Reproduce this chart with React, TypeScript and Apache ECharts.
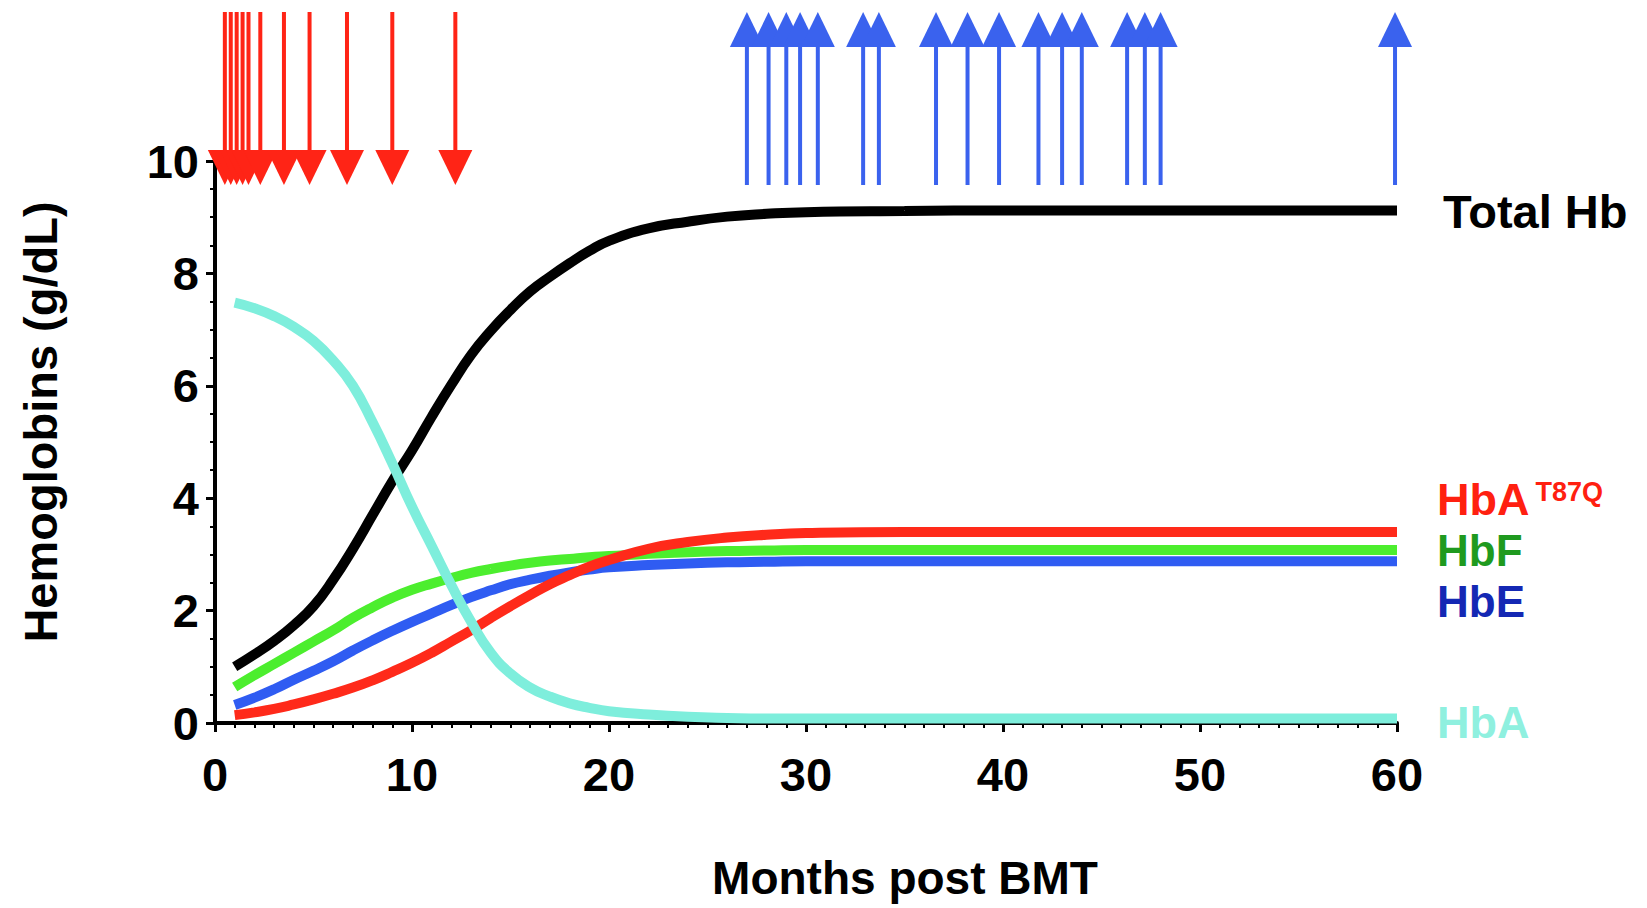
import React, { useEffect, useRef } from "react";
import * as echarts from "echarts";

const months = [1, 2, 3, 4, 5, 6, 7, 8, 9, 10, 11, 12, 13, 14, 15, 16, 17, 18, 19, 20, 22, 24, 26, 28, 30, 35, 40, 45, 50, 55, 60];
const totalHb = [1.0, 1.22, 1.46, 1.74, 2.08, 2.55, 3.1, 3.7, 4.3, 4.85, 5.45, 6.02, 6.55, 6.98, 7.35, 7.68, 7.94, 8.18, 8.4, 8.58, 8.8, 8.92, 9.01, 9.06, 9.09, 9.11, 9.12, 9.12, 9.12, 9.12, 9.12];
const hbA = [7.48, 7.38, 7.24, 7.05, 6.8, 6.45, 6.0, 5.35, 4.62, 3.85, 3.15, 2.45, 1.8, 1.25, 0.88, 0.63, 0.47, 0.35, 0.27, 0.21, 0.15, 0.11, 0.09, 0.08, 0.08, 0.08, 0.08, 0.08, 0.08, 0.08, 0.08];
const hbF = [0.64, 0.85, 1.05, 1.25, 1.45, 1.65, 1.87, 2.06, 2.23, 2.37, 2.48, 2.58, 2.67, 2.74, 2.8, 2.85, 2.89, 2.92, 2.95, 2.97, 3.01, 3.04, 3.06, 3.07, 3.08, 3.08, 3.08, 3.08, 3.08, 3.08, 3.08];
const hbE = [0.32, 0.45, 0.6, 0.77, 0.93, 1.1, 1.29, 1.47, 1.64, 1.8, 1.95, 2.1, 2.24, 2.36, 2.47, 2.55, 2.62, 2.68, 2.73, 2.77, 2.81, 2.84, 2.86, 2.87, 2.88, 2.88, 2.88, 2.88, 2.88, 2.88, 2.88];
const hbAT87Q = [0.14, 0.19, 0.25, 0.33, 0.42, 0.52, 0.63, 0.76, 0.91, 1.07, 1.25, 1.45, 1.65, 1.87, 2.08, 2.28, 2.47, 2.63, 2.78, 2.9, 3.1, 3.22, 3.3, 3.35, 3.38, 3.4, 3.4, 3.4, 3.4, 3.4, 3.4];

const redArrowMonths = [0.5, 0.8, 1.1, 1.4, 1.7, 2.3, 3.5, 4.8, 6.7, 9.0, 12.2];
const blueArrowMonths = [27.0, 28.1, 29.0, 29.7, 30.6, 32.9, 33.7, 36.6, 38.2, 39.8, 41.8, 43.0, 44.0, 46.3, 47.2, 48.0, 59.9];

const xTicks = [0, 10, 20, 30, 40, 50, 60];
const yTicks = [0, 2, 4, 6, 8, 10];

const FONT = "'Liberation Sans', Arial, Helvetica, sans-serif";

function pair(xs: number[], ys: number[]) {
  return xs.map((x, i) => [x, ys[i]]);
}

function arrowRenderer(color: string, pointDown: boolean) {
  return (params: any, api: any) => {
    const m = api.value(0);
    const top = api.coord([m, 100]);
    const bot = api.coord([m, 0]);
    const headLen = 35;
    const headHalf = 17;
    let shaft, head;
    if (pointDown) {
      shaft = { x1: top[0], y1: top[1], x2: bot[0], y2: bot[1] - headLen + 2 };
      head = [[bot[0] - headHalf, bot[1] - headLen], [bot[0] + headHalf, bot[1] - headLen], [bot[0], bot[1]]];
    } else {
      shaft = { x1: bot[0], y1: bot[1], x2: top[0], y2: top[1] + headLen - 2 };
      head = [[top[0] - headHalf, top[1] + headLen], [top[0] + headHalf, top[1] + headLen], [top[0], top[1]]];
    }
    return {
      type: "group",
      children: [
        { type: "line", shape: shaft, style: { stroke: color, lineWidth: 4 } },
        { type: "polygon", shape: { points: head }, style: { fill: color } },
      ],
    };
  };
}

function label(text: string, x: number, yCenter: number, fill: string, size: number, lh: number) {
  return {
    type: "text",
    x,
    y: yCenter,
    style: { text, fill, font: `bold ${size}px ${FONT}`, lineHeight: lh, align: "left", verticalAlign: "middle" },
  };
}

export default function App() {
  const ref = useRef<HTMLDivElement>(null);
  useEffect(() => {
    if (!ref.current) return;
    const chart = echarts.init(ref.current, undefined, { renderer: "svg" });
    const left = 215;
    const right = 1647 - 1397;
    const lineSeries = (name: string, data: number[], color: string) => ({
      name,
      type: "line",
      xAxisIndex: 0,
      yAxisIndex: 0,
      data: pair(months, data),
      smooth: true,
      showSymbol: false,
      lineStyle: { color, width: 10, cap: "butt" },
      itemStyle: { color },
    });
    chart.setOption({
      animation: false,
      backgroundColor: "#ffffff",
      grid: [
        { left, right, top: 161, bottom: 908 - 723 },
        { left, right, top: 12, height: 173 },
      ],
      xAxis: [
        {
          type: "value",
          gridIndex: 0,
          min: 0,
          max: 60,
          interval: 10,
          axisLine: { show: true, lineStyle: { color: "#000", width: 4 } },
          axisTick: { show: true, length: 9, lineStyle: { color: "#000", width: 3 } },
          minorTick: { show: true, splitNumber: 10, length: 5, lineStyle: { color: "#000", width: 2 } },
          splitLine: { show: false },
          axisLabel: {
            margin: 28,
            color: "#000",
            fontSize: 47,
            fontWeight: "bold",
            fontFamily: FONT,
            formatter: (v: number) => (xTicks.includes(v) ? String(v) : ""),
          },
        },
        { type: "value", gridIndex: 1, min: 0, max: 60, show: false },
      ],
      yAxis: [
        {
          type: "value",
          gridIndex: 0,
          min: 0,
          max: 10,
          interval: 2,
          axisLine: { show: true, lineStyle: { color: "#000", width: 4 } },
          axisTick: { show: true, length: 9, lineStyle: { color: "#000", width: 3 } },
          minorTick: { show: true, splitNumber: 4, length: 5, lineStyle: { color: "#000", width: 2 } },
          splitLine: { show: false },
          axisLabel: {
            margin: 16,
            color: "#000",
            fontSize: 47,
            fontWeight: "bold",
            fontFamily: FONT,
            formatter: (v: number) => (yTicks.includes(v) ? String(v) : ""),
          },
        },
        { type: "value", gridIndex: 1, min: 0, max: 100, show: false },
      ],
      series: [
        lineSeries("Total Hb", totalHb, "#000000"),
        lineSeries("HbE", hbE, "#2f5cf2"),
        lineSeries("HbF", hbF, "#4cee2e"),
        lineSeries("HbA T87Q", hbAT87Q, "#ff2a1a"),
        lineSeries("HbA", hbA, "#7eeedc"),
        {
          type: "custom",
          name: "red arrows",
          xAxisIndex: 1,
          yAxisIndex: 1,
          data: redArrowMonths.map((m) => [m, 0]),
          renderItem: arrowRenderer("#ff2416", true),
          clip: false,
        },
        {
          type: "custom",
          name: "blue arrows",
          xAxisIndex: 1,
          yAxisIndex: 1,
          data: blueArrowMonths.map((m) => [m, 0]),
          renderItem: arrowRenderer("#3a62ee", false),
          clip: false,
        },
      ],
      graphic: [
        label("Total Hb", 1443, 211, "#000000", 47, 44),
        {
          type: "text",
          x: 1437,
          y: 499,
          style: {
            text: "{m|HbA}{s|T87Q}",
            fill: "#ff2010",
            align: "left",
            verticalAlign: "middle",
            rich: {
              m: { fontSize: 45, fontWeight: "bold", fontFamily: FONT, lineHeight: 42, fill: "#ff2010", verticalAlign: "middle" },
              s: { fontSize: 27, fontWeight: "bold", fontFamily: FONT, lineHeight: 27, fill: "#ff2010", verticalAlign: "top", padding: [0, 0, 0, 6] },
            },
          },
        },
        label("HbF", 1437, 550, "#1f9a1f", 44, 42),
        label("HbE", 1437, 601, "#1428b4", 44, 42),
        label("HbA", 1437, 722, "#8ff0df", 45, 42),
        {
          type: "text",
          x: 905,
          y: 878,
          style: { text: "Months post BMT", fill: "#000", font: `bold 46px ${FONT}`, lineHeight: 44, align: "center", verticalAlign: "middle" },
        },
        {
          type: "text",
          x: 40,
          y: 422,
          rotation: Math.PI / 2,
          style: { text: "Hemoglobins (g/dL)", fill: "#000", font: `bold 47px ${FONT}`, align: "center", verticalAlign: "middle" },
        },
      ],
    });
    return () => chart.dispose();
  }, []);
  return <div ref={ref} style={{ position: "fixed", left: 0, top: 0, width: "100vw", height: "100vh" }} />;
}
